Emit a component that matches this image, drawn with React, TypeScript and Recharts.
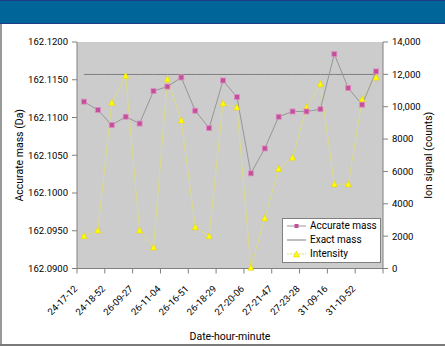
import React from 'react'
import {
  ComposedChart,
  Line,
  XAxis,
  YAxis,
  CartesianGrid,
  Legend
} from 'recharts'

// measurement times (every other one is labelled on the axis)
const times = [
  '24-17-12', '24-18-02', '24-18-52', '26-08-37', '26-09-27', '26-10-15',
  '26-11-04', '26-16-02', '26-16-51', '26-17-40', '26-18-29', '27-19-16',
  '27-20-06', '27-20-57', '27-21-47', '27-22-37', '27-23-28', '31-08-26',
  '31-09-16', '31-10-04', '31-10-52', '31-11-40'
]

const accurateMass = [
  162.1121, 162.1110, 162.1090, 162.1101, 162.1092, 162.1135,
  162.1141, 162.1153, 162.1109, 162.1086, 162.1149, 162.1127,
  162.1026, 162.1059, 162.1101, 162.1108, 162.1108, 162.1111,
  162.1184, 162.1139, 162.1117, 162.1161
]

const exactMass = [
  162.1157, 162.1157, 162.1157, 162.1157, 162.1157, 162.1157,
  162.1157, 162.1157, 162.1157, 162.1157, 162.1157, 162.1157,
  162.1157, 162.1157, 162.1157, 162.1157, 162.1157, 162.1157,
  162.1157, 162.1157, 162.1157, 162.1157
]

const intensity = [
  2000, 2350, 10250, 11900, 2350, 1300, 11700, 9150, 2550, 2000, 10200,
  9950, 50, 3100, 6150, 6850, 9950, 11400, 5200, 5200, 10450, 11800
]

const massTicks = [162.09, 162.095, 162.1, 162.105, 162.11, 162.115, 162.12]
const intensityTicks = [0, 2000, 4000, 6000, 8000, 10000, 12000, 14000]

const data = times.map((t, i) => ({
  time: t,
  accurate: accurateMass[i],
  exact: exactMass[i],
  intensity: intensity[i]
}))

const FONT = 'Roboto, "Liberation Sans", sans-serif'
const AXIS_GRAY = '#808080'
const INT_LINE = '#dcdc86'

const tickStyle = { fill: '#000', fontSize: 9.5, fontFamily: FONT }
const titleStyle = { textAnchor: 'middle', fill: '#000', fontSize: 10.5, fontFamily: FONT } as any

const formatCount = (v: number) => (v >= 10000 ? v.toLocaleString('en-US') : String(v))

const XTick = (props: any) => {
  const { x, y, payload, index } = props
  const half = payload && payload.offset ? payload.offset : 7
  const tx = x - 6
  const ty = y + 21
  return (
    <g>
      <line x1={x - half} y1={y} x2={x - half} y2={y + 5} stroke={AXIS_GRAY} />
      {index === 10 && (
        <line x1={x + 3 * half} y1={y} x2={x + 3 * half} y2={y + 5} stroke={AXIS_GRAY} />
      )}
      <text
        x={tx}
        y={ty}
        transform={`rotate(-45, ${tx}, ${ty})`}
        textAnchor="end"
        fontSize={9.5}
        fontFamily={FONT}
        fill="#000"
      >
        {payload.value}
      </text>
    </g>
  )
}

const SquareDot = (props: any) => {
  const { cx, cy, index } = props
  if (cx == null || cy == null) return <g key={`sq-${index}`} />
  return (
    <rect key={`sq-${index}`} x={cx - 2.5} y={cy - 2.5} width={5} height={5}
      fill="#c2509a" stroke="#e08cc4" strokeWidth={0.8} />
  )
}

const TriangleDot = (props: any) => {
  const { cx, cy, index } = props
  if (cx == null || cy == null) return <g key={`tr-${index}`} />
  return (
    <polygon key={`tr-${index}`}
      points={`${cx},${cy - 3.5} ${cx + 3},${cy + 2.5} ${cx - 3},${cy + 2.5}`}
      fill="#ffff00" stroke="#e6d200" strokeWidth={0.6} />
  )
}

const LegendBox = () => {
  const rows = [
    { label: 'Accurate mass', kind: 'square' },
    { label: 'Exact mass', kind: 'line' },
    { label: 'Intensity', kind: 'triangle' }
  ]
  return (
    <div style={{
      background: '#fff', border: '1px solid #808080', padding: '0 0 1px 3px',
      boxSizing: 'border-box', width: 99, whiteSpace: 'nowrap',
      fontFamily: FONT, fontSize: 10, lineHeight: '14px', color: '#000'
    }}>
      {rows.map(r => (
        <div key={r.label} style={{ display: 'flex', alignItems: 'center', height: 14 }}>
          <svg width={21} height={14} style={{ marginRight: 3, flex: 'none' }}>
            {r.kind === 'triangle' ? (
              <line x1={1} y1={7} x2={20} y2={7} stroke={INT_LINE} strokeDasharray="2 1" />
            ) : (
              <line x1={1} y1={7} x2={20} y2={7} stroke={r.kind === 'line' ? '#7f7f7f' : '#999'} />
            )}
            {r.kind === 'square' && (
              <rect x={8.5} y={5} width={4} height={4} fill="#c2509a" />
            )}
            {r.kind === 'triangle' && (
              <polygon points="10.5,4 13.5,10 7.5,10" fill="#ffff00" stroke="#e6d200" strokeWidth={0.6} />
            )}
          </svg>
          <span>{r.label}</span>
        </div>
      ))}
    </div>
  )
}

export default function App() {
  return (
    <div style={{ position: 'absolute', left: 0, top: 0, width: 445, height: 347, background: '#fff', overflow: 'hidden' }}>
      <ComposedChart
        width={445}
        height={347}
        data={data}
        margin={{ top: 42, right: 0, bottom: 0, left: 0 }}
      >
        <CartesianGrid fill="#cccccc" horizontal={false} vertical={false} />
        <XAxis
          dataKey="time"
          scale="band"
          interval={1}
          height={78.5}
          tickSize={0}
          tickMargin={0}
          tickLine={false}
          axisLine={{ stroke: AXIS_GRAY }}
          tick={<XTick />}
          label={{ value: 'Date-hour-minute', position: 'insideBottom', offset: 7, style: titleStyle }}
        />
        <YAxis
          yAxisId="mass"
          width={77}
          domain={[162.09, 162.12]}
          ticks={massTicks}
          interval={0}
          allowDataOverflow
          tickFormatter={(v: number) => v.toFixed(4)}
          tickSize={5}
          tickMargin={4}
          tick={tickStyle}
          axisLine={{ stroke: AXIS_GRAY }}
          tickLine={{ stroke: AXIS_GRAY }}
          label={{ value: 'Accurate mass (Da)', angle: -90, position: 'insideLeft', offset: 19, style: titleStyle }}
        />
        <YAxis
          yAxisId="int"
          orientation="right"
          width={62}
          domain={[0, 14000]}
          ticks={intensityTicks}
          interval={0}
          tickFormatter={formatCount}
          tickSize={5}
          tickMargin={4}
          tick={tickStyle}
          axisLine={{ stroke: AXIS_GRAY }}
          tickLine={{ stroke: AXIS_GRAY }}
          label={{ value: 'Ion signal (counts)', angle: -90, position: 'insideRight', offset: 17, style: titleStyle }}
        />
        <Line
          yAxisId="mass"
          dataKey="exact"
          stroke="#7f7f7f"
          strokeWidth={1}
          dot={false}
          activeDot={false}
          isAnimationActive={false}
        />
        <Line
          yAxisId="int"
          dataKey="intensity"
          stroke={INT_LINE}
          strokeWidth={1}
          dot={<TriangleDot />}
          activeDot={false}
          isAnimationActive={false}
        />
        <Line
          yAxisId="mass"
          dataKey="accurate"
          stroke="#969696"
          strokeWidth={1}
          dot={<SquareDot />}
          activeDot={false}
          isAnimationActive={false}
        />
        <Legend
          layout="vertical"
          align="center"
          verticalAlign="middle"
          content={<LegendBox />}
          wrapperStyle={{ left: 282, top: 218, width: 99, height: 'auto' }}
        />
      </ComposedChart>
      <div style={{ position: 'absolute', left: 0, top: 0, width: 445, height: 24, background: '#00669a', borderTop: '1px solid #1a3a8a', borderBottom: '1px solid #1d3d8c', boxSizing: 'border-box' }} />
      <div style={{ position: 'absolute', left: 0, top: 24, width: 2, height: 322, background: '#9a9a9a' }} />
      <div style={{ position: 'absolute', left: 0, top: 344, width: 445, height: 2, background: '#7a7a7a' }} />
    </div>
  )
}
